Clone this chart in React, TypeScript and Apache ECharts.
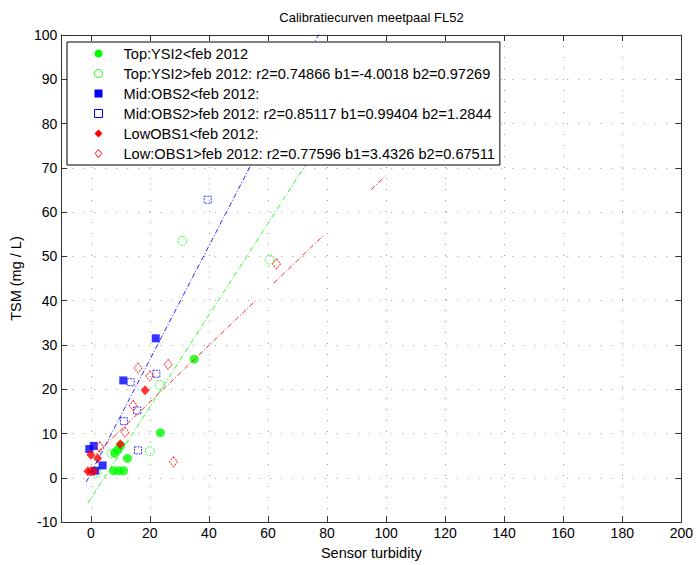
import React, { useEffect, useRef } from 'react';
import * as echarts from 'echarts';

const FONT = '"Liberation Sans", Arial, Helvetica, sans-serif';

const chartTitle = 'Calibratiecurven meetpaal FL52';
const xAxisName = 'Sensor turbidity';
const yAxisName = 'TSM (mg / L)';

const xTicks = [0, 20, 40, 60, 80, 100, 120, 140, 160, 180, 200];
const yTicks = [-10, 0, 10, 20, 30, 40, 50, 60, 70, 80, 90, 100];

const seriesNames = [
  'Top:YSI2<feb 2012',
  'Top:YSI2>feb 2012: r2=0.74866 b1=-4.0018 b2=0.97269',
  'Mid:OBS2<feb 2012:',
  'Mid:OBS2>feb 2012: r2=0.85117 b1=0.99404 b2=1.2844',
  'LowOBS1<feb 2012:',
  'Low:OBS1>feb 2012: r2=0.77596 b1=3.4326 b2=0.67511',
];

// [sensor turbidity, TSM]
const topBefore = [
  [7.7, 1.6], [9.4, 1.6], [11.1, 1.6], [8.1, 5.6], [9.1, 6.3], [10.1, 7.3],
  [12.4, 4.4], [23.6, 10.2], [35.0, 26.8],
];
const topAfter = [[2, 1.2], [7, 5.5], [20, 6], [23.3, 21], [31, 53.5], [60.6, 49.3]];
const midBefore = [[-0.5, 6.5], [1, 7.2], [1.5, 1.6], [4, 2.8], [11, 22], [22, 31.5]];
const midAfter = [[11.2, 12.8], [13.5, 21.6], [15.7, 15.2], [16, 6.2], [22.2, 23.5], [39.6, 62.8]];
const lowBefore = [[-1, 1.5], [0, 1.5], [1, 1.5], [0, 5.2], [2.3, 4.4], [10, 7.6], [18.4, 19.8]];
const lowAfter = [[3, 7], [11.6, 10.3], [14.4, 16.3], [16, 24.8], [20, 23], [26.2, 25.6], [28, 3.6], [62.9, 48.3]];

// fitted lines (intercept, slope) and drawn x ranges
const topFit = { b1: -4.7, b2: 1.036, segments: [[-1, 100]] };
const midFit = { b1: 0.99404, b2: 1.2844, segments: [[-1.5, 79]] };
const lowFit = { b1: 4.3, b2: 0.64, segments: [[0, 56], [62, 79], [95, 100]] };

const GREEN = '#00ff00';
const BLUE = '#0000ff';
const RED = '#ff0000';

const DIAMOND_ICON = 'path://M5,0L10,6L5,12L0,6Z';

function fitSeries(fit: { b1: number; b2: number; segments: number[][] }, color: string, key: string) {
  return fit.segments.map((seg, i) => ({
    name: key + i,
    type: 'line',
    data: seg.map((x) => [x, fit.b1 + fit.b2 * x]),
    showSymbol: false,
    symbol: 'none',
    clip: true,
    silent: true,
    z: 3,
    lineStyle: { color, width: 1, type: [5, 2, 1, 2], opacity: 0.85 },
  }));
}

function scatter(name: string, data: number[][], symbol: string, size: any, color: string, open: boolean) {
  return {
    name,
    type: 'scatter',
    data,
    symbol,
    symbolSize: size,
    z: 2,
    itemStyle: open
      ? { color: 'rgba(0,0,0,0)', borderColor: color, borderWidth: 1, borderType: [2, 1] }
      : { color, borderWidth: 0 },
  };
}

export default function App() {
  const ref = useRef<HTMLDivElement>(null);
  useEffect(() => {
    const chart = echarts.init(ref.current!, null, { renderer: 'svg' });
    const legendColors = [GREEN, GREEN, BLUE, BLUE, RED, RED];
    const legendOpen = [false, true, false, true, false, true];
    const legendIcons = [undefined, undefined, undefined, undefined, undefined, DIAMOND_ICON];
    const axisCommon = {
      axisLine: { show: true, onZero: false, lineStyle: { color: '#333', width: 1 } },
    };
    chart.setOption({
      animation: false,
      backgroundColor: '#fff',
      textStyle: { fontFamily: FONT },
      grid: { left: 60, right: 13, top: 35, bottom: 37, containLabel: false },
      graphic: [
        {
          type: 'text',
          x: 371.5,
          y: 17,
          style: {
            text: chartTitle,
            fontSize: 13,
            fontFamily: FONT,
            fill: '#000',
            textAlign: 'center',
            textVerticalAlign: 'middle',
          },
        },
      ],
      legend: {
        orient: 'vertical',
        left: 67,
        top: 42,
        padding: [4, 5, 4, 27],
        itemWidth: 8,
        itemHeight: 8,
        itemGap: 5,
        align: 'left',
        selectedMode: false,
        borderColor: '#000',
        borderWidth: 1,
        backgroundColor: '#fff',
        z: 10,
        textStyle: {
          fontSize: 14.6,
          lineHeight: 14,
          color: '#000',
          fontFamily: FONT,
          padding: [0, 0, 0, 16],
        },
        data: seriesNames.map((n, i) => {
          const item: any = {
            name: n,
            itemStyle: legendOpen[i]
              ? {
                  color: 'rgba(255,255,255,0)',
                  borderColor: legendColors[i],
                  borderWidth: 1,
                  borderType: 'solid',
                  opacity: 1,
                }
              : { color: legendColors[i], borderWidth: 0, opacity: 1 },
          };
          if (legendIcons[i]) item.icon = legendIcons[i];
          return item;
        }),
      },
      xAxis: [
        {
          type: 'value',
          min: -10,
          max: 200,
          position: 'bottom',
          name: xAxisName,
          nameLocation: 'middle',
          nameGap: 15,
          nameTextStyle: { fontSize: 14.5, color: '#000', fontFamily: FONT, verticalAlign: 'top' },
          ...axisCommon,
          axisTick: { show: true, inside: true, length: 6, customValues: xTicks, lineStyle: { color: '#333' } },
          axisLabel: { show: true, customValues: xTicks, margin: 4, fontSize: 14, color: '#000', fontFamily: FONT },
          splitLine: { show: true, lineStyle: { color: '#999', width: 1, type: [1, 10] } },
        },
        {
          type: 'value',
          min: -10,
          max: 200,
          position: 'top',
          ...axisCommon,
          axisTick: { show: true, inside: true, length: 6, customValues: xTicks, lineStyle: { color: '#333' } },
          axisLabel: { show: false, customValues: xTicks },
          splitLine: { show: false },
        },
      ],
      yAxis: [
        {
          type: 'value',
          min: -10,
          max: 100,
          interval: 10,
          position: 'left',
          name: yAxisName,
          nameLocation: 'middle',
          nameGap: 32,
          nameTextStyle: { fontSize: 14.5, color: '#000', fontFamily: FONT },
          ...axisCommon,
          axisTick: { show: true, inside: true, length: 6, lineStyle: { color: '#333' } },
          axisLabel: { show: true, margin: 4, fontSize: 14, color: '#000', fontFamily: FONT },
          splitLine: { show: true, lineStyle: { color: '#999', width: 1, type: [1, 10] } },
        },
        {
          type: 'value',
          min: -10,
          max: 100,
          interval: 10,
          position: 'right',
          ...axisCommon,
          axisTick: { show: true, inside: true, length: 6, lineStyle: { color: '#333' } },
          axisLabel: { show: false },
          splitLine: { show: false },
        },
      ],
      series: [
        scatter(seriesNames[0], topBefore, 'circle', 9, GREEN, false),
        scatter(seriesNames[1], topAfter, 'circle', 9, GREEN, true),
        scatter(seriesNames[2], midBefore, 'rect', 8, BLUE, false),
        scatter(seriesNames[3], midAfter, 'rect', 7, BLUE, true),
        scatter(seriesNames[4], lowBefore, 'diamond', [9, 10], RED, false),
        scatter(seriesNames[5], lowAfter, 'diamond', [8, 10], RED, true),
        ...fitSeries(topFit, GREEN, 'fitTop'),
        ...fitSeries(midFit, BLUE, 'fitMid'),
        ...fitSeries(lowFit, RED, 'fitLow'),
      ],
    });
    return () => chart.dispose();
  }, []);
  return (
    <div
      ref={ref}
      style={{ position: 'fixed', left: 0, top: 0, width: 696, height: 565, background: '#fff' }}
    />
  );
}
